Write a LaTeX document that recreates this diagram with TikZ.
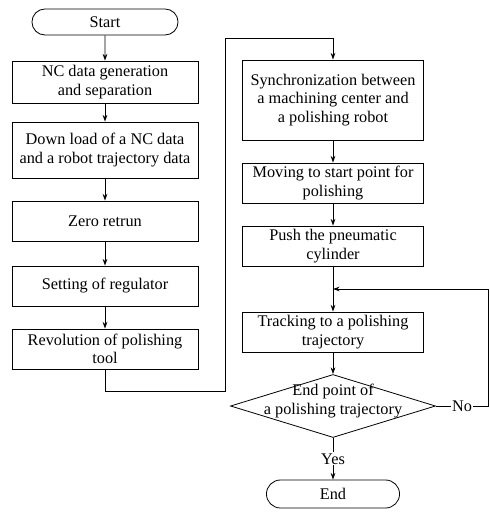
\documentclass[tikz,border=0pt]{standalone}
\usepackage{fontspec}
\setmainfont{Liberation Serif}
\usetikzlibrary{arrows.meta,positioning,shapes.geometric,shapes.misc}

\begin{document}
\begin{tikzpicture}[
  x=0.75pt, y=-0.75pt,
  font=\fontsize{12.2}{14}\selectfont,
  every path/.style={line width=0.6pt},
  box/.style={draw, minimum width=139.5pt, minimum height=30pt,
    align=center, inner sep=1pt},
  rbox/.style={box, minimum width=135.75pt},
  term/.style={draw, rounded rectangle, minimum width=116.25pt,
    minimum height=19.5pt},
  decide/.style={draw, diamond, minimum width=153.75pt,
    minimum height=47.25pt, inner sep=0pt},
  arrow/.style={-{Stealth[length=5pt,width=3.5pt]}},
  tag/.style={midway, fill=white, inner sep=1pt}
]
\useasboundingbox (0,0) rectangle (489,513);

% left column
\node[term] (start) at (105,22) {Start};

\node[box, minimum height=31.5pt] (gen) at (105,82) {%
  NC data generation\\and separation};

\node[box, minimum height=42pt] (load) at (105,150) {%
  Down load of a NC data\\and a robot trajectory data};

\node[box] (zero) at (105,221) {Zero retrun};

\node[box] (reg) at (105,286) {Setting of regulator};

\node[box] (rev) at (105,349) {%
  Revolution of polishing\\tool};

% right column
\node[rbox, minimum height=60pt] (sync) at (333,100) {%
  Synchronization between\\a machining center and\\a polishing robot};

\node[rbox] (move) at (333,183) {%
  Moving to start point for\\polishing};

\node[rbox] (push) at (333,246) {%
  Push the pneumatic\\cylinder};

\node[rbox] (track) at (333,332) {%
  Tracking to a polishing\\trajectory};

\node[decide, label={[align=center, yshift=3.75pt]center:{%
  End point of\\a polishing trajectory}}] (check) at (333,406) {};

\node[term, minimum width=106.5pt, minimum height=21pt] (end) at (333,494) {End};

\coordinate (low) at (225,391);
\coordinate (high) at (225,38);
\coordinate (back) at (488,289);

\draw[arrow] (start) -- (gen);
\draw[arrow] (gen) -- (load);
\draw[arrow] (load) -- (zero);
\draw[arrow] (zero) -- (reg);
\draw[arrow] (reg) -- (rev);
\draw[arrow] (rev.south) |- (low) -- (high) -| (sync.north);

\draw[arrow] (sync) -- (move);
\draw[arrow] (move) -- (push);
\draw[arrow] (push) -- (track);
\draw[arrow] (track) -- (check);
\draw[arrow] (check.east) -- (check.east -| back) node[tag] {No}
  -- (back) -- (back -| track.north);
\draw[arrow] (check.south) -- (end.north) node[tag] {Yes};

\end{tikzpicture}
\end{document}
